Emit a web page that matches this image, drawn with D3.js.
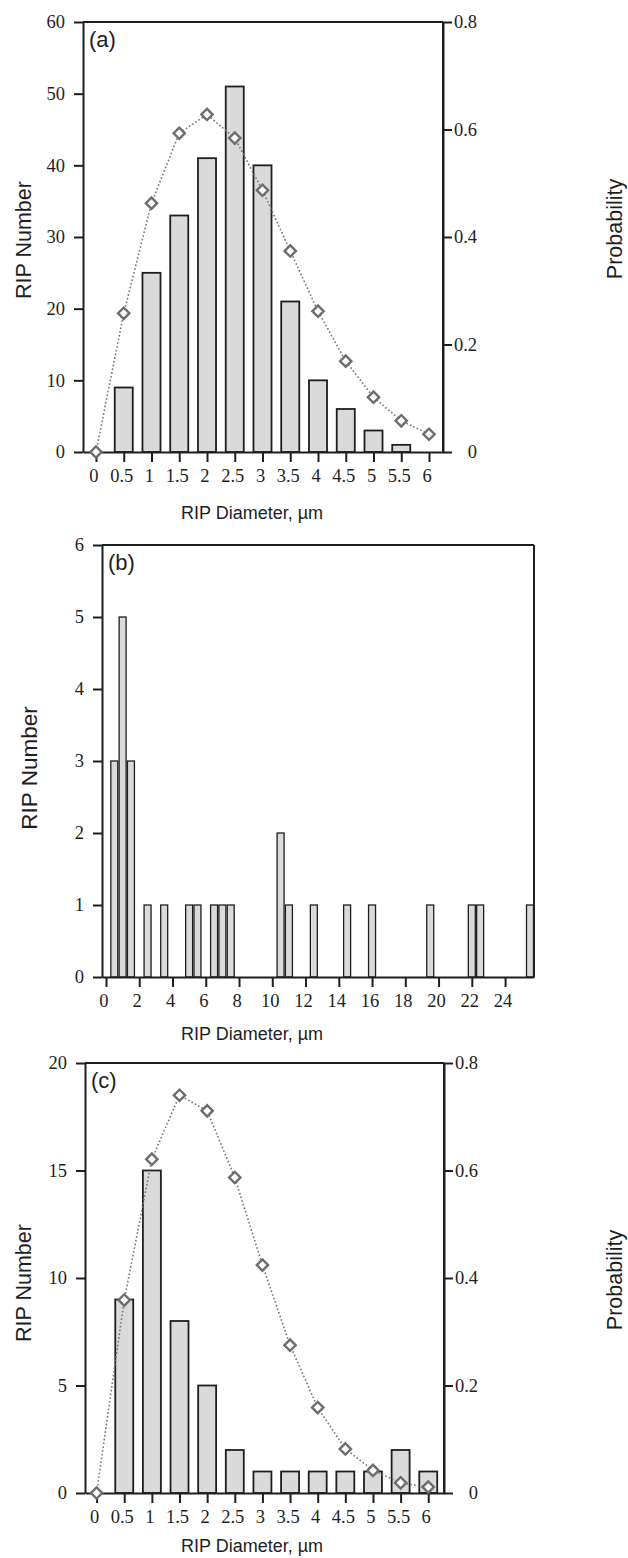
<!DOCTYPE html>
<html><head><meta charset="utf-8">
<script src="https://cdn.jsdelivr.net/npm/d3@7"></script>
<style>
html,body{margin:0;padding:0;background:#fff;}
svg{display:block;}
</style>
</head><body>
<script>
// ---------- DATA ----------
const probX = [0,0.5,1,1.5,2,2.5,3,3.5,4,4.5,5,5.5,6];
const xTickLabelsAC = ["0","0.5","1","1.5","2","2.5","3","3.5","4","4.5","5","5.5","6"];

const barXA = [0.5,1,1.5,2,2.5,3,3.5,4,4.5,5,5.5];
const countsA = [9,25,33,41,51,40,21,10,6,3,1];
const probA = [0,0.258,0.463,0.593,0.628,0.584,0.487,0.374,0.262,0.169,0.102,0.058,0.033];

const barXB = [0.5,1,1.5,2.5,3.5,5,5.5,6.5,7,7.5,10.5,11,12.5,14.5,16,19.5,22,22.5,25.5];
const countsB = [3,5,3,1,1,1,1,1,1,1,2,1,1,1,1,1,1,1,1];
const xTicksB = [0,2,4,6,8,10,12,14,16,18,20,22,24];
const yTicksB = [0,1,2,3,4,5,6];

const barXC = [0.5,1,1.5,2,2.5,3,3.5,4,4.5,5,5.5,6];
const countsC = [9,15,8,5,2,1,1,1,1,1,2,1];
const probC = [0,0.359,0.621,0.740,0.711,0.587,0.424,0.275,0.159,0.082,0.042,0.019,0.011];

const yTicksA = [0,10,20,30,40,50,60];
const yTicksC = [0,5,10,15,20];
const probTicks = [0,0.2,0.4,0.6,0.8];
const probTickLabels = ["0","0.2","0.4","0.6","0.8"];

const panelLabels = ["(a)","(b)","(c)"];
const xTitle = "RIP Diameter, \u00b5m";
const yTitle = "RIP Number";
const y2Title = "Probability";

// ---------- DRAW ----------
const W = 628, H = 1558;
const svg = d3.select("body").append("svg").attr("width", W).attr("height", H);

const serif = "'Liberation Serif','Times New Roman',serif";
const sans = "'Liberation Sans',Arial,sans-serif";
const ink = "#1e1e1e";
const tickFont = 18.5;

function panel(cfg){
  const g = svg.append("g");
  const x = d3.scaleLinear().domain(cfg.xDomain).range([cfg.left, cfg.right]);
  const y = d3.scaleLinear().domain(cfg.yDomain).range([cfg.bottom, cfg.top]);

  // bars
  g.append("g").selectAll("rect").data(cfg.barX).join("rect")
    .attr("x", d => x(d - cfg.barW/2))
    .attr("width", d => x(d + cfg.barW/2) - x(d - cfg.barW/2))
    .attr("y", (d,i) => y(cfg.counts[i]))
    .attr("height", (d,i) => y(0) - y(cfg.counts[i]))
    .attr("fill", "#dadada").attr("stroke", ink).attr("stroke-width", cfg.barStroke);

  // frame
  g.append("line").attr("x1", cfg.left).attr("x2", cfg.right).attr("y1", cfg.top).attr("y2", cfg.top)
    .attr("stroke", ink).attr("stroke-width", 2);
  g.append("line").attr("x1", cfg.right).attr("x2", cfg.right).attr("y1", cfg.top).attr("y2", cfg.bottom)
    .attr("stroke", ink).attr("stroke-width", 2);

  // left axis
  const ax = g.append("g").attr("transform", `translate(${cfg.left},0)`)
    .call(d3.axisLeft(y).tickValues(cfg.yTicks).tickSize(9).tickSizeOuter(0).tickPadding(9).tickFormat(d3.format("d")));
  ax.select(".domain").attr("stroke", ink).attr("stroke-width", 2);
  ax.selectAll(".tick line").attr("stroke", ink).attr("stroke-width", 2);
  ax.selectAll(".tick text").attr("font-family", serif).attr("font-size", tickFont).attr("fill", ink);

  // bottom axis
  const bx = g.append("g").attr("transform", `translate(0,${cfg.bottom})`)
    .call(d3.axisBottom(x).tickValues(cfg.xTicks).tickSize(10).tickSizeOuter(0).tickPadding(7)
      .tickFormat((d,i) => cfg.xTickLabels[i]));
  bx.select(".domain").attr("stroke", ink).attr("stroke-width", 2);
  bx.selectAll(".tick line").attr("stroke", ink).attr("stroke-width", 2);
  bx.selectAll(".tick text").attr("font-family", serif).attr("font-size", tickFont).attr("fill", ink).attr("dx", -2.5);

  // right probability axis
  if (cfg.prob){
    const y2 = d3.scaleLinear().domain([0,0.8]).range([cfg.bottom, cfg.top]);
    const rx = g.append("g").attr("transform", `translate(${cfg.right},0)`)
      .call(d3.axisRight(y2).tickValues(probTicks).tickSize(9).tickSizeOuter(0)
        .tickFormat((d,i) => probTickLabels[i]));
    rx.select(".domain").attr("stroke", ink).attr("stroke-width", 2);
    rx.selectAll(".tick line").attr("stroke", ink).attr("stroke-width", 2);
    rx.selectAll(".tick text").attr("font-family", serif).attr("font-size", tickFont).attr("fill", ink)
      .attr("text-anchor", "end").attr("x", 34);

    const line = d3.line().x(d => x(d[0])).y(d => y2(d[1]));
    const pts = probX.map((d,i) => [d, cfg.prob[i]]);
    g.append("path").attr("d", line(pts)).attr("fill", "none")
      .attr("stroke", "#777").attr("stroke-width", 1.6).attr("stroke-dasharray", "1.6,2.2");
    const sq = d3.symbol().type(d3.symbolSquare).size(64);
    g.append("g").selectAll("path").data(pts).join("path")
      .attr("d", sq)
      .attr("transform", d => `translate(${x(d[0])},${y2(d[1])}) rotate(45)`)
      .attr("fill", "#fff").attr("stroke", "#6d6d6d").attr("stroke-width", 2.4);

    svg.append("text").attr("transform", `translate(615,${cfg.y2TitleY}) rotate(-90)`)
      .attr("text-anchor", "middle").attr("dominant-baseline", "central")
      .attr("font-family", sans).attr("font-size", 21.5).attr("fill", ink).text(y2Title);
  }

  // titles
  svg.append("text").attr("transform", `translate(${cfg.yTitleX},${cfg.yTitleY}) rotate(-90)`)
    .attr("text-anchor", "middle").attr("dominant-baseline", "central")
    .attr("font-family", sans).attr("font-size", cfg.yTitleSize).attr("fill", ink).text(yTitle);
  svg.append("text").attr("x", 252).attr("y", cfg.xTitleY)
    .attr("text-anchor", "middle").attr("dominant-baseline", "central")
    .attr("font-family", sans).attr("font-size", 18).attr("fill", ink).text(xTitle);
  svg.append("text").attr("x", cfg.left + 6).attr("y", cfg.top + 25)
    .attr("font-family", sans).attr("font-size", 22).attr("fill", ink).text(cfg.label);
}

panel({left:83, right:443, top:22, bottom:452, xDomain:[-0.234, 6.252], yDomain:[0,60],
  barX:barXA, counts:countsA, barW:0.325, barStroke:1.8, yTicks:yTicksA,
  xTicks:probX, xTickLabels:xTickLabelsAC, prob:probA, y2TitleY:229,
  yTitleX:24, yTitleY:240, yTitleSize:21.5, xTitleY:513, label:panelLabels[0]});

panel({left:102, right:534, top:545, bottom:977, xDomain:[-0.24, 25.74], yDomain:[0,6],
  barX:barXB, counts:countsB, barW:0.42, barStroke:1.3, yTicks:yTicksB,
  xTicks:xTicksB, xTickLabels:xTicksB.map(String), prob:null,
  yTitleX:29, yTitleY:768, yTitleSize:22.5, xTitleY:1034, label:panelLabels[1]});

panel({left:85, right:444, top:1063, bottom:1493, xDomain:[-0.21, 6.285], yDomain:[0,20],
  barX:barXC, counts:countsC, barW:0.325, barStroke:1.8, yTicks:yTicksC,
  xTicks:probX, xTickLabels:xTickLabelsAC, prob:probC, y2TitleY:1280,
  yTitleX:24, yTitleY:1283, yTitleSize:21.5, xTitleY:1546, label:panelLabels[2]});
</script>
</body></html>
